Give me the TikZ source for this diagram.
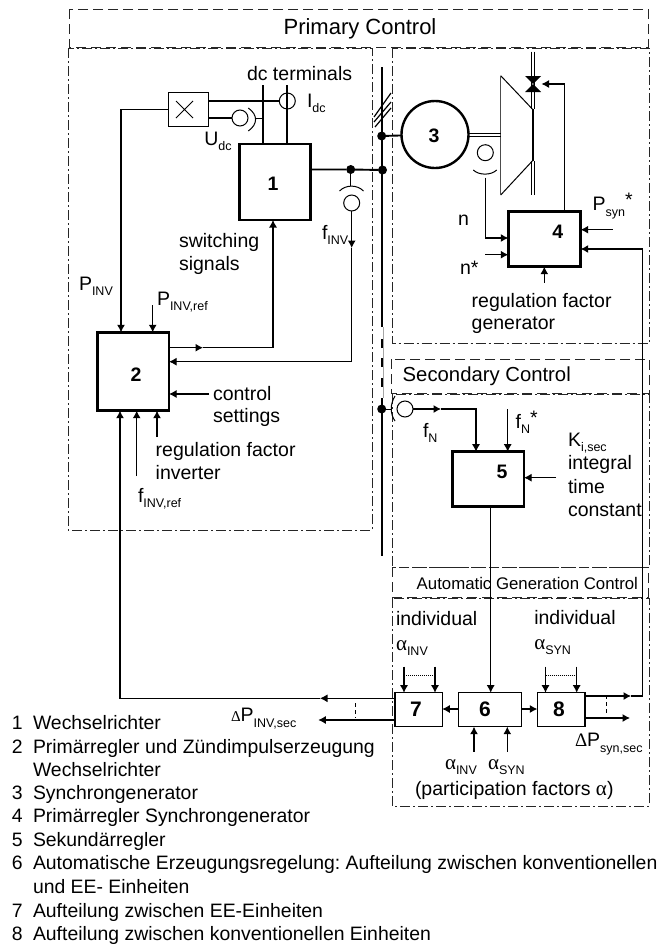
\documentclass[tikz,border=0pt]{standalone}
\usepackage{fontspec}
\setmainfont{Liberation Sans}
\newfontfamily\greekf{Liberation Serif}
\usetikzlibrary{arrows.meta,calc}
\frenchspacing
\newcommand{\lbl}[1]{\raisebox{-0.3em}{\fontsize{12.5}{14}\selectfont #1}}
\newcommand{\alf}{{\fontsize{21}{21}\selectfont\greekf α}}
\newcommand{\Dlt}{{\fontsize{15}{15}\selectfont\greekf Δ}}
\newcommand{\DltB}{{\fontsize{19}{19}\selectfont\greekf Δ}}
\tikzset{
  x=1pt,y=-1pt,
  txt/.style={anchor=base west,inner sep=0pt,outer sep=0pt,font=\fontsize{19.5}{23}\selectfont},
  legend/.style={txt,font=\fontsize{19.4}{23}\selectfont},
  num/.style={anchor=center,inner sep=0pt,font=\fontsize{19.5}{23}\selectfont\bfseries},
  heavybox/.style={draw,line width=2.6pt,inner sep=0pt,outer sep=0pt},
  thinbox/.style={draw,line width=1.2pt,inner sep=0pt,outer sep=0pt},
  sens/.style={draw,circle,line width=1pt,minimum size=16pt,inner sep=0pt,outer sep=0pt},
  conn/.style={line width=1.1pt},
  thick conn/.style={line width=1.9pt},
  arr/.style={line width=1.1pt,-{Latex[length=7.5pt,width=8pt]}},
  zone/.style={line width=1pt,dash pattern=on 10pt off 5pt,draw=black!85},
  zonedot/.style={line width=.9pt,dash pattern=on 10pt off 3pt on 2pt off 3pt,draw=black!85},
  dotlink/.style={line width=.8pt,dash pattern=on 1pt off 1pt},
  dashlink/.style={line width=.9pt,dash pattern=on 4pt off 3pt},
  dotn/.style={circle,fill=black,minimum size=9pt,inner sep=0pt,outer sep=0pt},
}
\begin{document}
\begin{tikzpicture}
\useasboundingbox (0,0) rectangle (659,945);
\fill[white] (0,0) rectangle (659,945);

% zones
\draw[zone] (69,9) rectangle (648,47);
\draw[zonedot] (68,48) rectangle (372,530);
\draw[zonedot] (392.5,48) rectangle (649,343);
\draw[zone] (391,359) rectangle (649,393);
\draw[zonedot] (392,394) rectangle (649,567);
\draw[zone] (392,567) rectangle (648,597);
\draw[zonedot] (392,598) rectangle (649,806);

% titles
\node[anchor=center,inner sep=0pt,font=\fontsize{22}{24}\selectfont] (tprim) at (360,29) {Primary Control};
\node[anchor=west,inner sep=0pt,font=\fontsize{20.3}{24}\selectfont] (tsec) at (402.5,376) {Secondary Control};
\node[anchor=west,inner sep=0pt,font=\fontsize{16.8}{20}\selectfont] (tagc) at (416.5,583) {Automatic Generation Control};

% main boxes
\node[heavybox,minimum width=71.5pt,minimum height=76pt] (b1) at (275,182) {};
\node[heavybox,minimum width=71.7pt,minimum height=78.4pt] (b2) at (133.2,371.5) {};
\node[heavybox,minimum width=72.4pt,minimum height=55pt] (b4) at (544.5,239.2) {};
\node[heavybox,minimum width=71.7pt,minimum height=55pt] (b5) at (488.2,479.2) {};
\node[thinbox,minimum width=47.3pt,minimum height=34pt] (b7) at (418.6,709.7) {};
\node[thinbox,minimum width=63.4pt,minimum height=34pt] (b6) at (490,709.7) {};
\node[thinbox,minimum width=47.7pt,minimum height=34pt] (b8) at (561.2,709.7) {};
\node[thinbox,minimum width=40pt,minimum height=34.2pt] (mul) at (188.4,109.6) {};
\node[draw,circle,line width=2.4pt,minimum size=67pt,inner sep=0pt,outer sep=0pt] (gen) at (435,134.5) {};

\node[num] at (273,184) {1};
\node[num] at (136,375) {2};
\node[num] at (434,136) {3};
\node[num] at (557.7,231.7) {4};
\node[num] at (502,471.7) {5};
\node[num,font=\fontsize{21}{23}\selectfont\bfseries] at (485,709) {6};
\node[num,font=\fontsize{21}{23}\selectfont\bfseries] at (416,709) {7};
\node[num,font=\fontsize{21}{23}\selectfont\bfseries] at (559,709) {8};

% multiplier cross
\draw[line width=.8pt] (176,101) -- (193,118) (176,118) -- (193,101);

% bus
\coordinate (bustop) at (382,67);
\coordinate (busa) at (382,327);
\coordinate (busb) at (382,398);
\coordinate (busend) at (382,556);
\draw[line width=2.1pt] (bustop) -- (busa);
\draw[line width=.8pt,black!35] (383,327) -- (383,398);
\draw[line width=2.5pt] (382,339) -- (382,348) (382,358) -- (382,367) (382,378) -- (382,387);
\draw[line width=2.1pt] (busb) -- (busend);
\draw[line width=1.2pt] (374,117) -- (391,93) (374,122) -- (391,102) (375,127) -- (391,108);
\node[dotn] (n1) at (381.7,136) {};
\node[dotn] (n2) at (382.5,170) {};
\node[dotn] (n3) at (381.7,409) {};
\node[dotn] (n4) at (350.7,169.5) {};

% dc side
\coordinate (dc1) at (263.3,85);
\coordinate (dc2) at (287.3,85);
\draw[thick conn] (dc1) -- (dc1 |- b1.north);
\draw[thick conn] (dc2) -- (dc2 |- b1.north);
\node[sens] (sidc) at (287.3,101) {};
\node[sens] (sudc) at (240,118) {};
\coordinate (utap) at (263.3,118);
\draw[conn] (mul.east |- sidc) -- (sidc);
\draw[conn] (mul.east |- sudc) -- (sudc);
\draw[line width=1pt] (248.3,108) .. controls (258,115) and (258,124) .. (248.3,131);
\draw[line width=.9pt] (256,118) -- (utap);
\draw[thick conn] (b1.east |- n4) -- (n4) -- (n2);
\draw[thick conn] (n1) -- (gen);

% f_INV measurement
\node[sens] (sfinv) at (351.7,203) {};
\draw[line width=1pt] (339.5,191) .. controls (346,184.5) and (357,184.5) .. (363.5,191);
\draw[line width=.9pt] (n4) -- (350.7,186);
\coordinate (finvc) at (351.7,361.7);
\coordinate (finvm) at (351.7,248);
\draw[arr] (sfinv) -- (finvm);
\draw[arr] (finvm) -- (finvc) -- (finvc -| b2.east);

% P_INV
\coordinate (pc) at (121,109.7);
\draw[arr] (mul.west |- pc) -- (pc) -- (pc |- b2.north);
\coordinate (prf) at (152.7,305);
\draw[arr] (prf) -- (prf |- b2.north);

% switching signals
\coordinate (swm) at (203,347.7);
\coordinate (swc) at (273,347.7);
\draw[arr] (b2.east |- swm) -- (swm);
\draw[arr] (swm) -- (swc) -- (swc |- b1.south);

% control settings
\coordinate (cs) at (209,394);
\draw[arr] (cs) -- (cs -| b2.east);
\coordinate (fr) at (136.7,476);
\draw[arr] (fr) -- (fr |- b2.south);
\coordinate (rf) at (157,437);
\draw[arr] (rf) -- (rf |- b2.south);

% turbine
\draw[line width=1pt] (500.7,75.7) -- (532.3,109) (532.3,161) -- (500.7,195);
\draw[line width=1.5pt,black!70] (500.7,75.7) -- (500.7,195);
\draw[line width=1.8pt] (533,109) -- (533,161);
\draw[line width=1pt] (531,51.7) -- (531,109) (534.5,51.7) -- (534.5,109);
\draw[line width=1pt] (531,161) -- (531,195) (534.5,161) -- (534.5,195);
\fill (525,76) -- (541,76) -- (533,84) -- (541,92) -- (525,92) -- (533,84) -- cycle;
\draw[line width=1pt] (gen.east |- 0,133) -- (501,133) (gen.east |- 0,136.3) -- (501,136.3);
\coordinate (vt) at (564.3,84);
\draw[arr] (b4.north -| vt) -- (vt) -- (541.5,84);

% speed
\node[sens] (sn) at (485.3,152.7) {};
\draw[line width=1pt] (473.3,170) .. controls (479,175.5) and (491,175.5) .. (496.7,170);
\coordinate (ntop) at (485.3,177.7);
\coordinate (nc) at (485.3,238);
\draw[arr] (ntop) -- (nc) -- (nc -| b4.west);
\coordinate (ns) at (485,254.7);
\draw[arr] (ns) -- (ns -| b4.west);
\coordinate (ps) at (612.7,229.7);
\draw[arr] (ps) -- (ps -| b4.east);
\coordinate (rg) at (544.3,282.7);
\draw[arr] (rg) -- (rg |- b4.south);

% feedback 8 -> 4
\coordinate (fb4) at (642.7,249);
\coordinate (fb8) at (642.7,696);
\coordinate (m8) at (631,696);
\draw[arr] (b8.east |- m8) -- (m8);
\draw[conn] (m8) -- (fb8);
\draw[arr] (fb8) -- (fb4) -- (fb4 -| b4.east);
\coordinate (d8) at (630,718);
\draw[arr] (b8.east |- d8) -- (d8);
\draw[dashlink] (606,695) -- (606,714);

% secondary
\node[sens] (sfn) at (405,409) {};
\draw[line width=1pt] (395,396) .. controls (390,404) and (390,414) .. (395,421);
\draw[line width=.9pt] (n3) -- (392,409);
\coordinate (fnm) at (441,409);
\coordinate (fnc) at (476,409);
\draw[arr] (sfn) -- (fnm);
\draw[arr] (fnm) -- (fnc) -- (fnc |- b5.north);
\coordinate (fs) at (507.7,409);
\draw[arr] (fs) -- (fs |- b5.north);
\coordinate (ki) at (556,477.7);
\draw[arr] (ki) -- (ki -| b5.east);
\coordinate (s5) at (490.7,530);
\draw[arr] (s5 |- b5.south) -- (s5 |- b6.north);

% AGC
\draw[arr] (b6.west |- 0,709) -- (b7.east |- 0,709);
\draw[arr] (b6.east |- 0,709) -- (b8.west |- 0,709);
\coordinate (i71) at (404,666.7);
\coordinate (i72) at (435,666.7);
\coordinate (i81) at (545.5,666.7);
\coordinate (i82) at (576.7,666.7);
\draw[arr] (i71) -- (i71 |- b7.north);
\draw[arr] (i72) -- (i72 |- b7.north);
\draw[arr] (i81) -- (i81 |- b8.north);
\draw[arr] (i82) -- (i82 |- b8.north);
\draw[dotlink] (404,675) -- (435,675);
\draw[dotlink] (545.5,675) -- (576.7,675);
\coordinate (a1) at (474,751.7);
\coordinate (a2) at (507.3,751.7);
\draw[arr] (a1) -- (a1 |- b6.south);
\draw[arr] (a2) -- (a2 |- b6.south);

% outputs of 7
\coordinate (m7) at (320,698.3);
\coordinate (c7) at (120,698.3);
\draw[arr] (b7.west |- m7) -- (m7);
\draw[arr] (m7) -- (c7) -- (c7 |- b2.south);
\coordinate (d7) at (318.3,720);
\draw[arr] (b7.west |- d7) -- (d7);
\draw[dashlink] (355,703) -- (355,718);

% labels left
\node[txt] (l1) at (247,80) {dc terminals};
\node[txt] (l2) at (307,107) {I\lbl{dc}};
\node[txt] (l3) at (204.3,145) {U\lbl{dc}};
\node[txt] (l4) at (179,247) {switching};
\node[txt] (l5) at (179,270) {signals};
\node[txt] (l6) at (322,239) {f\lbl{INV}};
\node[txt] (l7) at (79,290) {P\lbl{INV}};
\node[txt] (l8) at (157,305) {P\lbl{INV,ref}};
\node[txt] (l9) at (213,400) {control};
\node[txt] (l10) at (213,422) {settings};
\node[txt] (l11) at (155.7,456) {regulation factor};
\node[txt] (l12) at (155.7,479) {inverter};
\node[txt] (l13) at (138,502) {f\lbl{INV,ref}};
% labels right
\node[txt] (r1) at (458,225) {n};
\node[txt] (r2) at (460,274) {n*};
\node[txt] (r3) at (592.7,210.7) {P\lbl{syn}\raisebox{.2em}{*}};
\node[txt] (r4) at (471.7,307) {regulation factor};
\node[txt] (r5) at (471.7,329) {generator};
\node[txt] (s1) at (423,437) {f\lbl{N}};
\node[txt] (s2) at (515.7,428) {f\lbl{N}\raisebox{.2em}{*}};
\node[txt] (s3) at (568,446) {K\lbl{i,sec}};
\node[txt] (s4) at (568,469) {integral};
\node[txt] (s5t) at (568,493) {time};
\node[txt] (s6) at (568,516) {constant};
% labels AGC
\node[txt] (g1) at (396,625) {individual};
\node[txt] (g2) at (534.3,624) {individual};
\node[txt] (g3) at (396,650) {\alf\lbl{INV}};
\node[txt] (g4) at (534.3,649) {\alf\lbl{SYN}};
\node[txt] (g5) at (445,769) {\alf\lbl{INV}};
\node[txt] (g6) at (488,769) {\alf\lbl{SYN}};
\node[txt] (g7) at (415,795) {(participation factors \alf)};
\node[txt] (g8) at (231,721.7) {\Dlt P\lbl{INV,sec}};
\node[txt] (g9) at (575,746.7) {\DltB P\lbl{syn,sec}};

% legend
\foreach \n/\y in {1/729,2/753,3/799,4/822,5/846,6/869,7/917,8/940}
  \node[legend] at (12,\y) {\n};
\node[legend] (t1) at (33,729) {Wechselrichter};
\node[legend] (t2) at (33,753) {Primärregler und Zündimpulserzeugung};
\node[legend] (t2b) at (33,776) {Wechselrichter};
\node[legend] (t3) at (33,799) {Synchrongenerator};
\node[legend] (t4) at (33,822) {Primärregler Synchrongenerator};
\node[legend] (t5) at (33,846) {Sekundärregler};
\node[legend] (t6) at (33,869) {Automatische Erzeugungsregelung: Aufteilung zwischen konventionellen};
\node[legend] (t6b) at (33,893) {und EE- Einheiten};
\node[legend] (t7) at (33,917) {Aufteilung zwischen EE-Einheiten};
\node[legend] (t8) at (33,940) {Aufteilung zwischen konventionellen Einheiten};
\end{tikzpicture}
\end{document}
